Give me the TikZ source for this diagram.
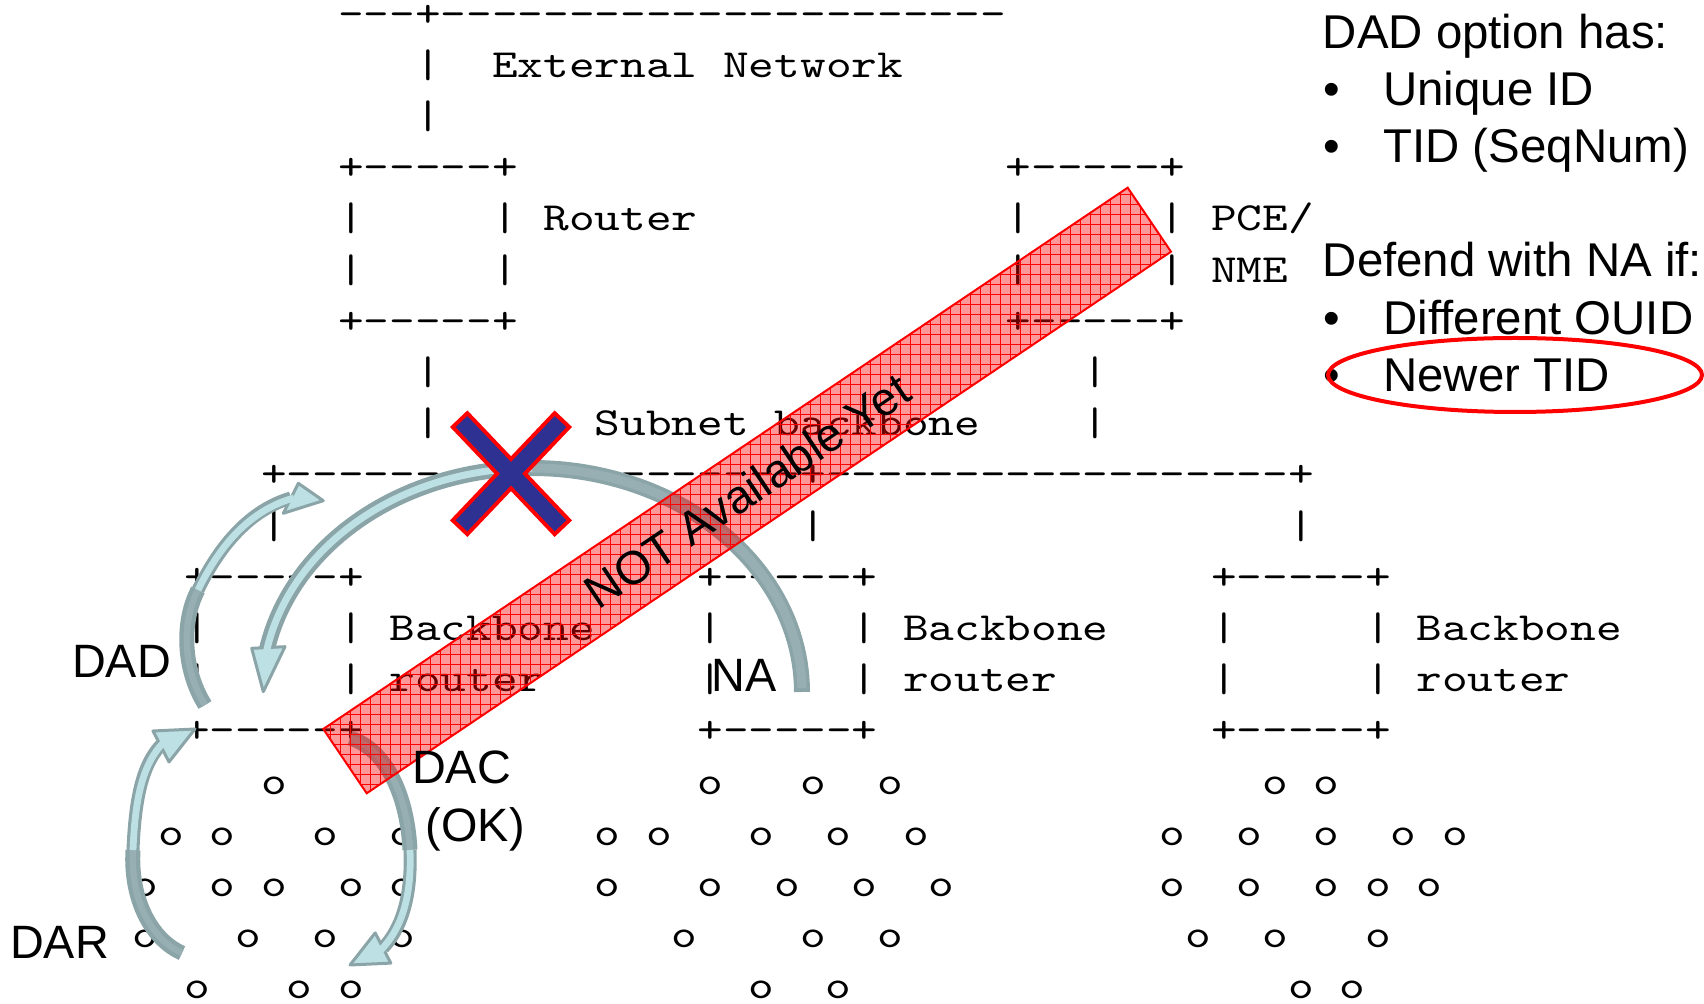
\documentclass[tikz,border=0pt]{standalone}
\usepackage{fontspec}
\setmainfont{Liberation Sans}
\setmonofont[FakeStretch=1.2255]{lmmono10-regular.otf}
\usetikzlibrary{patterns.meta}
\definecolor{arrgray}{HTML}{8AA4A7}
\definecolor{arrdark}{HTML}{97AFB2}
\definecolor{arrlight}{HTML}{BCE0E3}
\definecolor{xblue}{HTML}{2E3192}
\newcommand\ascfont{\ttfamily\fontsize{19.95pt}{24pt}\selectfont\fontdimen2\font=12.836pt\fontdimen3\font=0pt\fontdimen4\font=0pt}
\newcommand\lblfont{\fontsize{23.4pt}{28pt}\selectfont}
\newcommand\txtfont{\fontsize{23.7pt}{28pt}\selectfont}
\begin{document}
\begin{tikzpicture}[x=0.5pt,y=-0.5pt,
  asc/.style={font=\ascfont, inner sep=0pt, anchor=base west},
  lbl/.style={font=\lblfont, inner sep=0pt, anchor=base west},
  txt/.style={font=\txtfont, inner sep=0pt, anchor=base west},
  shaftout/.style={draw=arrgray, line width=6.5pt},
  shafttail/.style={draw=arrdark, line width=3.2pt},
  shafthead/.style={draw=arrlight, line width=3.4pt},
  arrhead/.style={fill=arrlight, draw=arrgray, line width=1.5pt, line join=round},
  xout/.style={draw=red, line width=12pt},
  xin/.style={draw=xblue, line width=8pt}]
\useasboundingbox (0,0) rectangle (1704,1004);
% ---------- ASCII art ----------
\foreach \c/\r/\s [count=\i] in {
  8/0/{---+----------------------},
  11/1/{|}, 14/1/{External Network},
  11/2/{|},
  8/3/{+-----+}, 34/3/{+-----+},
  8/4/{|}, 14/4/{|}, 16/4/{Router}, 34/4/{|}, 40/4/{|}, 42/4/{PCE/},
  8/5/{|}, 14/5/{|}, 34/5/{|}, 40/5/{|}, 42/5/{NME},
  8/6/{+-----+}, 34/6/{+-----+},
  11/7/{|}, 37/7/{|},
  11/8/{|}, 18/8/{Subnet backbone}, 37/8/{|},
  5/9/{+--------------------+------------------+},
  5/10/{|}, 26/10/{|}, 45/10/{|},
  2/11/{+-----+}, 22/11/{+-----+}, 42/11/{+-----+},
  2/12/{|}, 8/12/{|}, 10/12/{Backbone}, 22/12/{|}, 28/12/{|}, 30/12/{Backbone}, 42/12/{|}, 48/12/{|}, 50/12/{Backbone},
  2/13/{|}, 8/13/{|}, 10/13/{router}, 22/13/{|}, 28/13/{|}, 30/13/{router}, 42/13/{|}, 48/13/{|}, 50/13/{router},
  2/14/{+-----+}, 22/14/{+-----+}, 42/14/{+-----+}}
  {\node[asc] (asc\i) at ({132.5+25.67*\c},{26.2+51.2*\r}) {\s};}
\foreach \r/\cl in {
  15/{5,22,26,29,44,46},
  16/{1,3,7,10,18,20,24,27,30,40,43,46,49,51},
  17/{0,3,5,8,10,18,22,25,28,31,40,43,46,48,50},
  18/{0,4,7,10,21,26,29,41,44,48},
  19/{2,6,8,24,27,45,47}}
  {\foreach \c in \cl {\node[asc] (o-\r-\c) at ({132.5+25.67*\c},{26.2+51.2*\r}) {o};}}
% ---------- big NA arrow (arc) ----------
\coordinate (naTail) at (802,692);
\coordinate (bcTip) at (263.3,691.7);
\draw[draw=arrgray, line width=8pt] plot[domain=0:170, samples=90, variable=\t] ({532+270*cos(\t)},{692-224*sin(\t)});
\draw[draw=arrdark, line width=4.5pt] plot[domain=1:90, samples=60, variable=\t] ({532+270*cos(\t)},{692-224*sin(\t)});
\filldraw[arrhead] (251.7,648.3) -- (bcTip) -- (285,646.7) -- cycle;
\draw[draw=arrlight, line width=3.5pt] plot[domain=90:172, samples=60, variable=\t] ({532+270*cos(\t)},{692-224*sin(\t)});
% ---------- DAD arrow ----------
\coordinate (dadTail) at (205,705);
\coordinate (dadMid) at (198,590);
\coordinate (dadEnd) at (291,498);
\draw[shaftout, line width=7.5pt] (dadTail) .. controls (182,668) and (182,620) .. (dadMid);
\draw[shaftout] (dadMid) .. controls (220,545) and (250,510) .. (dadEnd);
\draw[shafttail] (dadTail) .. controls (182,668) and (182,620) .. (dadMid);
\filldraw[arrhead] (298.3,483.3) -- (323.3,500.7) -- (283.3,513.3) -- cycle;
\draw[shafthead] (dadMid) .. controls (220,545) and (250,510) .. (294,498);
% ---------- DAR arrow ----------
\coordinate (darTail) at (182,953);
\coordinate (darMid) at (133,850);
\coordinate (darEnd) at (161,745);
\draw[shaftout, line width=7.5pt] (darTail) .. controls (152,940) and (130,900) .. (darMid);
\draw[shaftout] (darMid) .. controls (135,800) and (142,765) .. (darEnd);
\draw[shafttail] (darTail) .. controls (152,940) and (130,900) .. (darMid);
\filldraw[arrhead] (153,731) -- (195,729) -- (169,762) -- cycle;
\draw[shafthead] (darMid) .. controls (135,800) and (142,765) .. (163,743);
% ---------- DAC arrow ----------
\coordinate (dacTail) at (350,738);
\coordinate (dacMid) at (410,850);
\coordinate (dacEnd) at (383,948);
\draw[shaftout, line width=7.5pt] (dacTail) .. controls (383,748) and (407,790) .. (dacMid);
\draw[shaftout] (dacMid) .. controls (412,900) and (400,930) .. (dacEnd);
\draw[shafttail] (dacTail) .. controls (383,748) and (407,790) .. (dacMid);
\filldraw[arrhead] (375.2,932.9) -- (350,965) -- (390.8,963.1) -- cycle;
\draw[shafthead] (dacMid) .. controls (412,900) and (400,930) .. (381,950);
% ---------- X mark ----------
\draw[xout] (458.7,418.7) -- (563.3,528.7);
\draw[xout] (563.3,418.7) -- (458.7,528.7);
\draw[xin] (461.5,421.6) -- (560.5,525.8);
\draw[xin] (560.5,421.6) -- (461.5,525.8);
% ---------- NOT Available Yet band ----------
\coordinate (bA) at (323.3,729);
\coordinate (bB) at (366.7,793.3);
\coordinate (bC) at (1171,251.7);
\coordinate (bD) at (1127.7,187.7);
\fill[red, fill opacity=0.4] (bA) -- (bB) -- (bC) -- (bD) -- cycle;
\fill[pattern={Hatch[angle=0,distance=5pt,line width=0.3pt]}, pattern color=red, fill opacity=0.25] (bA) -- (bB) -- (bC) -- (bD) -- cycle;
\draw[red, line width=1pt, line join=miter] (bA) -- (bB) -- (bC) -- (bD) -- cycle;
\node[font=\lblfont, rotate=33.94, inner sep=0pt] (notyet) at (747.2,490.4) {NOT Available Yet};
% ---------- labels ----------
\node[lbl] (dad) at (71.8,678) {DAD};
\node[lbl] (dar) at (9.7,959) {DAR};
\node[lbl] (dac) at (411.6,784) {DAC};
\node[lbl] (ok) at (425.4,841.7) {(OK)};
\node[lbl] (na) at (711.4,692) {NA};
% ---------- right text ----------
\node[txt] (h1) at (1322.4,48.3) {DAD option has:};
\node[txt] (b1) at (1323.5,105.7) {•};
\node[txt] (i1) at (1383,105.7) {Unique ID};
\node[txt] (b2) at (1323.5,162.7) {•};
\node[txt] (i2) at (1383,162.7) {TID (SeqNum)};
\node[txt] (h2) at (1322.4,276.7) {Defend with NA if:};
\node[txt] (b3) at (1323.5,335) {•};
\node[txt] (i3) at (1383,335) {Different OUID};
\node[txt] (b4) at (1323.5,391.7) {•};
\node[txt] (i4) at (1383,391.7) {Newer TID};
\draw[red, line width=2pt] (1515,375) ellipse [x radius=93.5pt, y radius=18.5pt];
\end{tikzpicture}
\end{document}
